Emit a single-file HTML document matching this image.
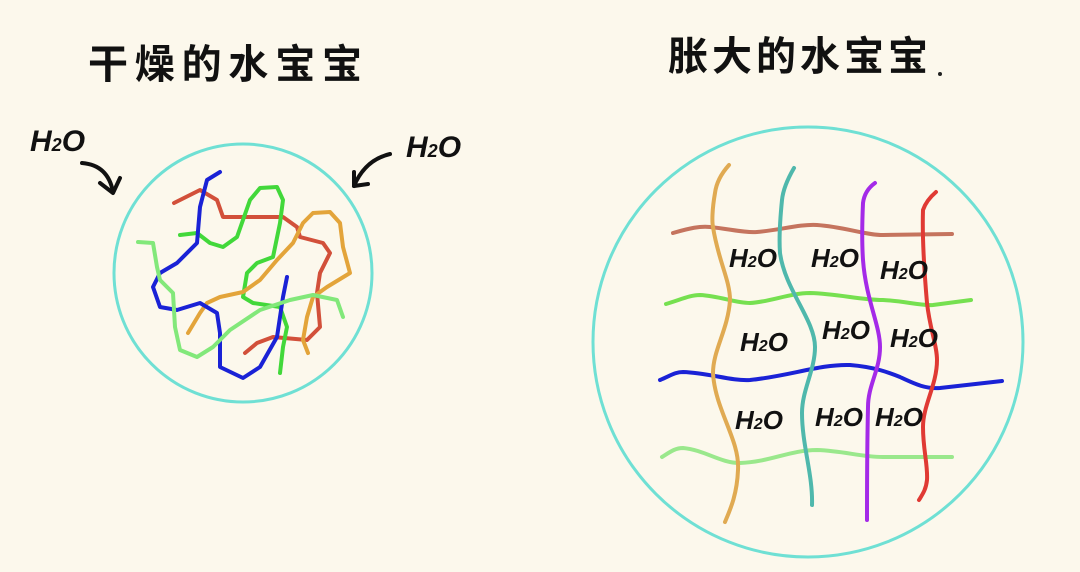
<!DOCTYPE html>
<html><head><meta charset="utf-8"><style>
html,body{margin:0;padding:0;background:#fcf8ec;}
svg{display:block}
.t{font-family:"Liberation Sans","WenQuanYi Zen Hei","Noto Sans CJK SC",sans-serif;font-weight:bold;fill:#111;}
.h{font-family:"Liberation Sans",sans-serif;font-weight:bold;font-style:italic;fill:#111;}
</style></head><body>
<svg width="1080" height="572" viewBox="0 0 1080 572" xmlns="http://www.w3.org/2000/svg">
<rect width="1080" height="572" fill="#fcf8ec"/>
<text class="t" x="88" y="78" font-size="40" textLength="274" lengthAdjust="spacing">干燥的水宝宝</text>
<text class="t" x="668" y="70" font-size="40" textLength="260" lengthAdjust="spacing">胀大的水宝宝</text>
<circle cx="940" cy="74" r="2" fill="#222"/>

<text class="h" x="30" y="151" font-size="30">H<tspan font-size="18">2</tspan>O</text>
<text class="h" x="406" y="157" font-size="30">H<tspan font-size="18">2</tspan>O</text>
<g fill="none" stroke="#111" stroke-width="4" stroke-linecap="round" stroke-linejoin="round">
<path d="M82,163 Q108,165 113,192"/><path d="M100,183 L113,193 L120,178"/>
<path d="M390,154 Q365,160 354,186"/><path d="M354,172 L354,186 L368,184"/>
</g>

<circle cx="243" cy="273" r="129" fill="none" stroke="#6fe0d4" stroke-width="3"/>
<g fill="none" stroke-width="4" stroke-linecap="round" stroke-linejoin="round">
<path stroke="#d2503a" d="M174,203 L200,190 L217,200 L223,217 L283,217 L297,227 L300,237 L323,243 L330,253 L320,273 L317,293 L320,327 L307,340 L273,337 L257,343 L245,353"/>
<path stroke="#42d83a" d="M180,235 L197,233 L210,243 L223,247 L237,237 L250,200 L260,188 L277,187 L283,200 L280,223 L273,257 L257,263 L247,273 L243,297 L253,303 L280,307 L287,327 L283,347 L280,373"/>
<path stroke="#e3a43a" d="M188,333 L200,313 L207,303 L220,297 L243,292 L260,280 L277,260 L293,243 L303,223 L313,213 L330,212 L340,223 L343,247 L350,273 L327,287 L313,297 L307,317 L303,340 L308,353"/>
<path stroke="#1a22d6" d="M220,172 L207,180 L200,207 L197,243 L177,263 L160,273 L153,287 L160,307 L177,310 L200,303 L217,313 L220,333 L220,367 L243,378 L260,367 L277,337 L283,297 L287,277"/>
<path stroke="#82e87a" d="M138,242 L153,243 L157,267 L160,280 L173,293 L175,327 L180,350 L197,357 L213,347 L230,330 L260,310 L290,300 L313,295 L337,300 L343,317"/>
</g>

<circle cx="808" cy="342" r="215" fill="none" stroke="#6fe0d4" stroke-width="3"/>
<g fill="none" stroke-width="4" stroke-linecap="round" stroke-linejoin="round">
<path stroke="#c5745e" d="M673,233 C690,228 700,226 710,227 C730,229 745,233 757,232 C780,230 800,224 817,225 C845,227 865,235 883,235 L952,234"/>
<path stroke="#76e050" d="M666,304 C680,300 690,295 700,295 C720,296 735,303 750,303 C770,302 790,293 810,293 C840,294 860,300 883,300 C905,301 920,306 933,305 L971,300"/>
<path stroke="#1a22d6" d="M660,380 C670,376 675,372 683,372 C710,373 730,381 750,380 C790,376 820,364 850,365 C875,367 890,373 900,377 C915,384 925,389 940,388 L1002,381"/>
<path stroke="#9ae88c" d="M662,457 C670,452 675,448 683,448 C705,450 720,463 740,463 C770,462 790,450 817,450 C845,451 860,457 883,457 L952,457"/>
<path stroke="#e0aa52" d="M729,165 C720,175 716,185 715,193 C712,210 712,222 713,227 C718,260 730,280 730,300 C728,330 713,350 713,373 C715,410 740,440 738,470 C737,495 730,510 725,522"/>
<path stroke="#4fb8ac" d="M794,168 C787,180 783,190 782,200 C780,220 779,240 780,253 C785,290 815,320 815,347 C815,370 802,390 802,413 C802,445 813,475 812,505"/>
<path stroke="#a42ae8" d="M875,183 C868,188 864,195 863,203 C862,225 862,245 863,260 C866,300 880,325 880,347 C880,370 868,385 868,407 C867,450 867,490 867,520"/>
<path stroke="#e03a34" d="M936,192 C929,198 925,204 923,210 C922,240 925,280 927,303 C930,330 937,345 937,360 C937,385 923,405 923,427 C923,450 928,465 927,480 C926,490 922,495 919,500"/>
</g>

<g font-size="26">
<text class="h" x="729" y="267">H<tspan font-size="16">2</tspan>O</text>
<text class="h" x="811" y="267">H<tspan font-size="16">2</tspan>O</text>
<text class="h" x="880" y="279">H<tspan font-size="16">2</tspan>O</text>
<text class="h" x="740" y="351">H<tspan font-size="16">2</tspan>O</text>
<text class="h" x="822" y="339">H<tspan font-size="16">2</tspan>O</text>
<text class="h" x="890" y="347">H<tspan font-size="16">2</tspan>O</text>
<text class="h" x="735" y="429">H<tspan font-size="16">2</tspan>O</text>
<text class="h" x="815" y="426">H<tspan font-size="16">2</tspan>O</text>
<text class="h" x="875" y="426">H<tspan font-size="16">2</tspan>O</text>
</g>
</svg>
</body></html>
